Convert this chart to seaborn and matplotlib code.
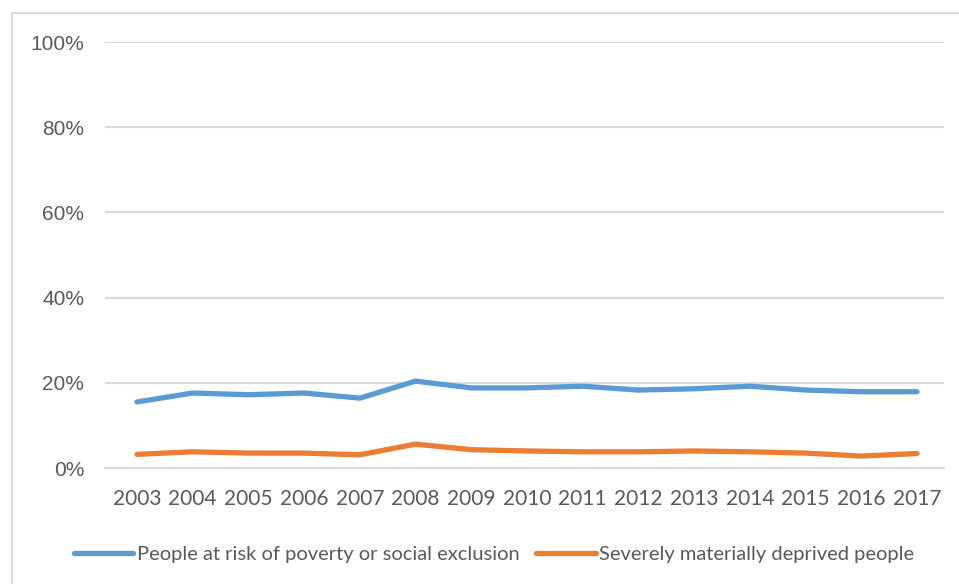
import matplotlib
matplotlib.use("Agg")
import matplotlib.pyplot as plt
import seaborn as sns
import pandas as pd
from matplotlib.patches import Rectangle
from matplotlib.lines import Line2D

years = list(range(2003, 2018))
risk_poverty = [15.5, 17.6, 17.2, 17.6, 16.4, 20.4, 18.8, 18.8, 19.2, 18.3, 18.6, 19.2, 18.3, 17.9, 17.9]
severe_deprivation = [3.2, 3.8, 3.5, 3.5, 3.1, 5.6, 4.3, 4.0, 3.8, 3.8, 4.0, 3.8, 3.5, 2.8, 3.4]
series_names = ["People at risk of poverty or social exclusion", "Severely materially deprived people"]
y_ticks = [0, 20, 40, 60, 80, 100]
colors = ["#5B9BD5", "#ED7D31"]

df = pd.DataFrame({
    "year": years * 2,
    "value": risk_poverty + severe_deprivation,
    "series": [series_names[0]] * len(years) + [series_names[1]] * len(years),
})

sns.set_theme(style="white")
W, H = 959, 584
fig = plt.figure(figsize=(W / 100, H / 100), dpi=100)
ax = fig.add_axes([105 / W, (H - 468) / H, (944 - 105) / W, (468 - 42) / H])

# outer chart border (top & left visible)
fig.patches.append(Rectangle((12 / W, -0.1), 1.2, (H - 13) / H + 0.1, transform=fig.transFigure,
                             fill=False, edgecolor="#d9d9d9", linewidth=1.5, zorder=0))

sns.lineplot(data=df, x="year", y="value", hue="series", ax=ax,
             palette=colors, linewidth=3.8, legend=False,
             solid_capstyle="round")

ax.set_ylim(0, 100)
sp = (917 - 137) / 14
ax.set_xlim(2003 - (137 - 105) / sp, 2017 + (944 - 917) / sp)
ax.set_yticks(y_ticks)
ax.set_yticklabels([f"{v}%" for v in y_ticks], family=["Liberation Sans", "DejaVu Sans"],
                   fontsize=15, color="#595959")
ax.set_xticks(years)
ax.set_xticklabels([str(y) for y in years], family=["Lato", "DejaVu Sans"],
                   fontsize=15, color="#595959")
ax.tick_params(axis="y", length=0, pad=15)
ax.tick_params(axis="x", length=0, pad=15)
ax.set_xlabel("")
ax.set_ylabel("")
ax.grid(axis="y", color="#d9d9d9", linewidth=1.5)
ax.set_axisbelow(True)
for s in ["top", "right", "left"]:
    ax.spines[s].set_visible(False)
ax.spines["bottom"].set_color("#d9d9d9")
ax.spines["bottom"].set_linewidth(1.5)

handles = [Line2D([0], [0], color=c, linewidth=3.8, solid_capstyle="round") for c in colors]
leg = fig.legend(handles, series_names, loc="center", bbox_to_anchor=(494 / W, (H - 554) / H),
                 ncol=2, frameon=False, handlelength=2.95, handletextpad=0.15, columnspacing=0.85,
                 prop={"family": ["Lato", "DejaVu Sans"], "size": 14.5})
for t in leg.get_texts():
    t.set_color("#595959")

fig.savefig("out.png", dpi=100, facecolor="white")
